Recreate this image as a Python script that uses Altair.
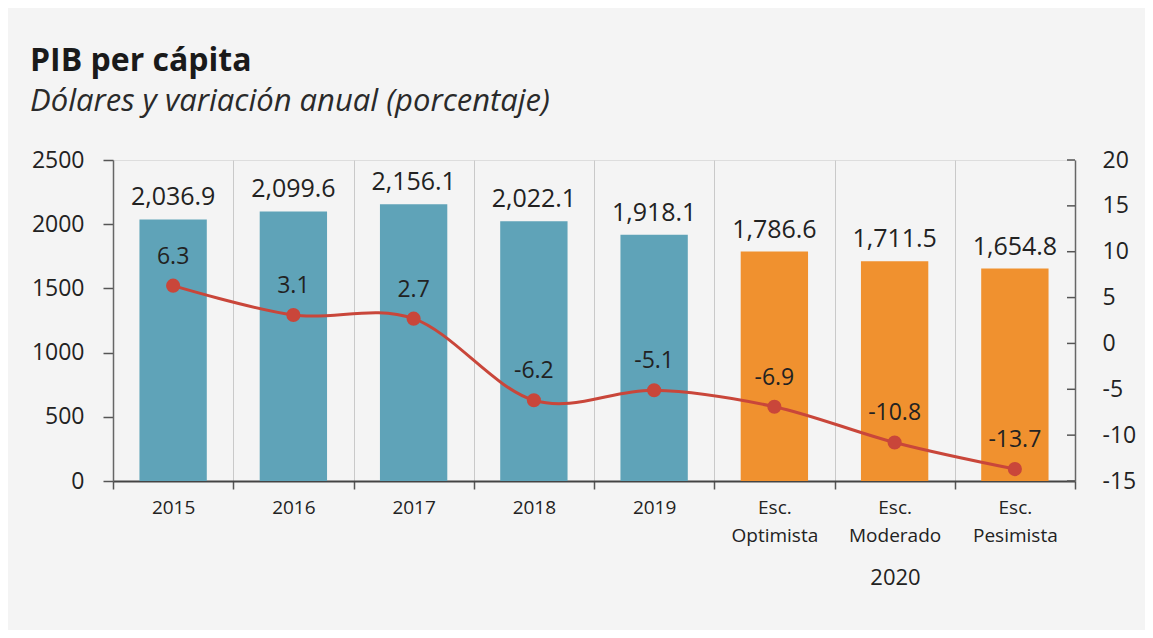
import altair as alt
import pandas as pd

categories = ["2015", "2016", "2017", "2018", "2019",
              "Esc. Optimista", "Esc. Moderado", "Esc. Pesimista"]
pib = [2036.9, 2099.6, 2156.1, 2022.1, 1918.1, 1786.6, 1711.5, 1654.8]
variacion = [6.3, 3.1, 2.7, -6.2, -5.1, -6.9, -10.8, -13.7]
tipo = ["Observado"] * 5 + ["Escenario 2020"] * 3
left_ticks = [0, 500, 1000, 1500, 2000, 2500]
right_ticks = [-15, -10, -5, 0, 5, 10, 15, 20]

df = pd.DataFrame({"cat": categories, "pib": pib, "var": variacion, "tipo": tipo})
df["pib_lbl"] = [f"{v:,.1f}" for v in pib]
df["var_lbl"] = [f"{v:.1f}" for v in variacion]
tick_df = pd.DataFrame({"var": right_ticks})

W, H = 962, 321
FONT = "Open Sans"
BLUE = "#5fa3b8"
ORANGE = "#f0912f"
RED = "#c9463a"

x = alt.X(
    "cat:N", sort=categories,
    scale=alt.Scale(paddingInner=0, paddingOuter=0),
    axis=alt.Axis(
        title="2020", titleX=782, titleY=86, titleAlign="center", titleBaseline="top",
        titleFontSize=22, titleFontWeight="normal", titleColor="#222",
        labelAngle=0, labelExpr="split(datum.label, ' ')", labelFontSize=19,
        labelLineHeight=28, labelPadding=9, labelColor="#222",
        tickBand="extent", tickSize=8, tickColor="#555", tickWidth=1.5,
        domainColor="#444", domainWidth=2,
        grid=True, gridColor="#c9c9c9", gridWidth=1,
    ),
)

yl = alt.Y(
    "pib:Q", scale=alt.Scale(domain=[0, 2500], nice=False, zero=True),
    axis=alt.Axis(orient="left", values=left_ticks, title=None, grid=False,
                  labelFontSize=23, labelPadding=19, tickSize=10, tickColor="#555",
                  tickWidth=1.5, domainColor="#666", domainWidth=1.5,
                  labelColor="#222", labelExpr="'' + datum.value"),
)

yr = alt.Y(
    "var:Q", scale=alt.Scale(domain=[-15, 20], nice=False, zero=False),
    axis=alt.Axis(orient="right", values=right_ticks, title=None, grid=False,
                  labelFontSize=23, labelPadding=27, tickSize=0,
                  domainColor="#666", domainWidth=1.5, labelAlign="left",
                  labelColor="#222", labelExpr="'' + datum.value"),
)

base = alt.Chart(df)

bars = base.mark_bar(width=alt.RelativeBandSize(0.56)).encode(
    x=x, y=yl,
    color=alt.Color("tipo:N", scale=alt.Scale(domain=["Observado", "Escenario 2020"],
                                              range=[BLUE, ORANGE]), legend=None),
)
btxt = base.mark_text(fontSize=25, dy=-9, baseline="bottom", color="#222").encode(
    x=x, y=yl, text="pib_lbl:N")

line = base.mark_line(color=RED, strokeWidth=3, interpolate="cardinal").encode(x=x, y=yr)
pts = base.mark_point(filled=True, size=200, color=RED, opacity=1).encode(x=x, y=yr)
ltxt = base.mark_text(fontSize=23, dy=-17, baseline="bottom", color="#222").encode(
    x=x, y=yr, text="var_lbl:N")
rticks = alt.Chart(tick_df).mark_rule(color="#555", strokeWidth=1.5).encode(
    y=yr, x=alt.value(W - 8), x2=alt.value(W))

left = alt.layer(bars, btxt)
right = alt.layer(line, pts, ltxt, rticks)

chart = alt.layer(left, right).resolve_scale(y="independent").properties(
    width=W, height=H,
    padding={"left": 105, "top": 152, "right": 70, "bottom": 149},
    autosize=alt.AutoSizeParams(type="none"),
    background="#f4f4f4",
    title=alt.TitleParams(
        text="PIB per cápita",
        subtitle="Dólares y variación anual (porcentaje)",
        anchor="start", frame="group", dx=-83, offset=31,
        fontSize=32, fontWeight="bold", color="#1a1a1a",
        subtitleFontSize=31, subtitleFontStyle="italic", subtitleColor="#2a2a2a",
        subtitlePadding=9, font=FONT, subtitleFont=FONT,
    ),
).configure_view(stroke=None).configure(font=FONT)

chart.save("out.html", embed_options={"renderer": "svg", "actions": False})
